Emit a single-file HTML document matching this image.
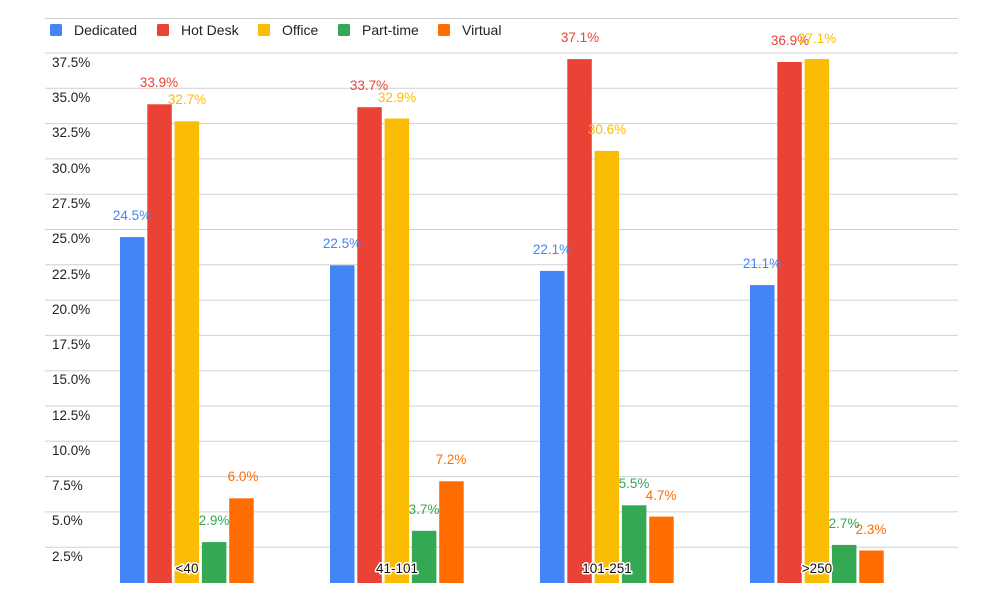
<!DOCTYPE html>
<html><head><meta charset="utf-8"><style>
html,body{margin:0;padding:0;background:#fff;}
svg{display:block;font-family:"Liberation Sans",Arial,sans-serif;}
</style></head><body>
<svg width="1000" height="600" viewBox="0 0 1000 600" xmlns="http://www.w3.org/2000/svg">
<g stroke="#d0d0d0" stroke-width="1">
<line x1="45" x2="958" y1="18.5" y2="18.5"/>
<line x1="45" x2="958" y1="53" y2="53"/>
<line x1="45" x2="958" y1="88.3" y2="88.3"/>
<line x1="45" x2="958" y1="123.6" y2="123.6"/>
<line x1="45" x2="958" y1="158.9" y2="158.9"/>
<line x1="45" x2="958" y1="194.2" y2="194.2"/>
<line x1="45" x2="958" y1="229.5" y2="229.5"/>
<line x1="45" x2="958" y1="264.8" y2="264.8"/>
<line x1="45" x2="958" y1="300.1" y2="300.1"/>
<line x1="45" x2="958" y1="335.4" y2="335.4"/>
<line x1="45" x2="958" y1="370.7" y2="370.7"/>
<line x1="45" x2="958" y1="406" y2="406"/>
<line x1="45" x2="958" y1="441.3" y2="441.3"/>
<line x1="45" x2="958" y1="476.6" y2="476.6"/>
<line x1="45" x2="958" y1="511.9" y2="511.9"/>
<line x1="45" x2="958" y1="547.2" y2="547.2"/>
</g>
<g font-size="14" fill="#222">
<rect x="50" y="24" width="12" height="12" rx="1.5" fill="#4285f4"/><text x="74" y="35">Dedicated</text>
<rect x="157" y="24" width="12" height="12" rx="1.5" fill="#ea4335"/><text x="181" y="35">Hot Desk</text>
<rect x="258" y="24" width="12" height="12" rx="1.5" fill="#fbbc04"/><text x="282" y="35">Office</text>
<rect x="338" y="24" width="12" height="12" rx="1.5" fill="#34a853"/><text x="362" y="35">Part-time</text>
<rect x="438" y="24" width="12" height="12" rx="1.5" fill="#ff6d01"/><text x="462" y="35">Virtual</text>
</g>
<g font-size="13.5" fill="#222">
<text x="52" y="67">37.5%</text>
<text x="52" y="102">35.0%</text>
<text x="52" y="137">32.5%</text>
<text x="52" y="173">30.0%</text>
<text x="52" y="208">27.5%</text>
<text x="52" y="243">25.0%</text>
<text x="52" y="279">22.5%</text>
<text x="52" y="314">20.0%</text>
<text x="52" y="349">17.5%</text>
<text x="52" y="384">15.0%</text>
<text x="52" y="420">12.5%</text>
<text x="52" y="455">10.0%</text>
<text x="52" y="490">7.5%</text>
<text x="52" y="525">5.0%</text>
<text x="52" y="561">2.5%</text>
</g>
<g>
<rect x="120" y="237.1" width="24.5" height="345.9" fill="#4285f4"/>
<rect x="147.3" y="104.3" width="24.5" height="478.7" fill="#ea4335"/>
<rect x="174.6" y="121.3" width="24.5" height="461.7" fill="#fbbc04"/>
<rect x="201.9" y="542.1" width="24.5" height="40.9" fill="#34a853"/>
<rect x="229.2" y="498.3" width="24.5" height="84.7" fill="#ff6d01"/>

<rect x="330" y="265.3" width="24.5" height="317.7" fill="#4285f4"/>
<rect x="357.3" y="107.2" width="24.5" height="475.8" fill="#ea4335"/>
<rect x="384.6" y="118.5" width="24.5" height="464.5" fill="#fbbc04"/>
<rect x="411.9" y="530.8" width="24.5" height="52.2" fill="#34a853"/>
<rect x="439.2" y="481.3" width="24.5" height="101.7" fill="#ff6d01"/>

<rect x="540" y="270.9" width="24.5" height="312.1" fill="#4285f4"/>
<rect x="567.3" y="59.1" width="24.5" height="523.9" fill="#ea4335"/>
<rect x="594.6" y="150.9" width="24.5" height="432.1" fill="#fbbc04"/>
<rect x="621.9" y="505.3" width="24.5" height="77.7" fill="#34a853"/>
<rect x="649.2" y="516.6" width="24.5" height="66.4" fill="#ff6d01"/>

<rect x="750" y="285.1" width="24.5" height="297.9" fill="#4285f4"/>
<rect x="777.3" y="62" width="24.5" height="521" fill="#ea4335"/>
<rect x="804.6" y="59.1" width="24.5" height="523.9" fill="#fbbc04"/>
<rect x="831.9" y="544.9" width="24.5" height="38.1" fill="#34a853"/>
<rect x="859.2" y="550.5" width="24.5" height="32.5" fill="#ff6d01"/>
</g>
<g font-size="13.5" text-anchor="middle">
<text x="132" y="220" fill="#4285f4">24.5%</text>
<text x="159" y="87" fill="#ea4335">33.9%</text>
<text x="187" y="104" fill="#fbbc04">32.7%</text>
<text x="214" y="525" fill="#34a853">2.9%</text>
<text x="243" y="481" fill="#ff6d01">6.0%</text>

<text x="342" y="248" fill="#4285f4">22.5%</text>
<text x="369" y="90" fill="#ea4335">33.7%</text>
<text x="397" y="102" fill="#fbbc04">32.9%</text>
<text x="424" y="514" fill="#34a853">3.7%</text>
<text x="451" y="464" fill="#ff6d01">7.2%</text>

<text x="552" y="254" fill="#4285f4">22.1%</text>
<text x="580" y="42" fill="#ea4335">37.1%</text>
<text x="607" y="134" fill="#fbbc04">30.6%</text>
<text x="634" y="488" fill="#34a853">5.5%</text>
<text x="661" y="500" fill="#ff6d01">4.7%</text>

<text x="762" y="268" fill="#4285f4">21.1%</text>
<text x="790" y="45" fill="#ea4335">36.9%</text>
<text x="817" y="43" fill="#fbbc04">37.1%</text>
<text x="844" y="528" fill="#34a853">2.7%</text>
<text x="871" y="534" fill="#ff6d01">2.3%</text>
</g>
<g font-size="13.5" text-anchor="middle" fill="#111" stroke="#fff" stroke-width="3" paint-order="stroke" stroke-linejoin="round">
<text x="187" y="573">&lt;40</text>
<text x="397" y="573">41-101</text>
<text x="607" y="573">101-251</text>
<text x="817" y="573">&gt;250</text>
</g>
</svg>
</body></html>
